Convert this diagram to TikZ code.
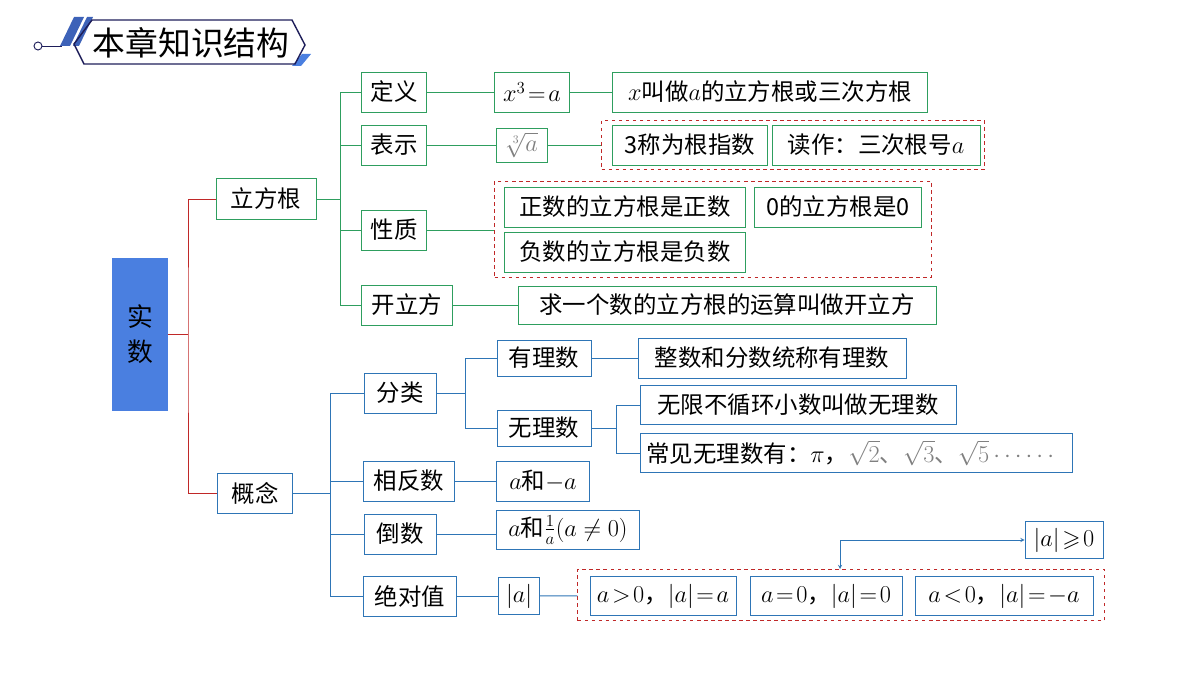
\documentclass[tikz,border=0pt]{standalone}
\usepackage{amssymb}
\usepackage{fontspec}
\setmainfont{Noto Sans CJK SC}
\usetikzlibrary{positioning}
\definecolor{gline}{RGB}{46,158,94}
\definecolor{bline}{RGB}{46,117,182}
\definecolor{rline}{RGB}{192,40,40}
\definecolor{navy}{RGB}{30,30,90}
\definecolor{fillb}{RGB}{74,127,224}
\tikzset{
  gbox/.style={draw=gline,thick,inner sep=1pt,minimum height=40*0.03cm,font=\fontsize{20}{22}\selectfont},
  bbox/.style={draw=bline,thick,inner sep=1pt,minimum height=39*0.03cm,font=\fontsize{20}{22}\selectfont},
  dbox/.style={draw=rline,dashed,thin},
  gl/.style={gline,thick},
  bl/.style={bline,thick},
}
\begin{document}
\begin{tikzpicture}[x=0.03cm,y=-0.03cm]
    \useasboundingbox (0,0) rectangle (1200,675);
    % title %
    \fill[fillb!70!navy] (60,46) -- (74,17) -- (84,17) -- (70,46) -- cycle;
    \fill[fillb!70!navy] (73,46) -- (87,17) -- (93,17) -- (79,46) -- cycle;
    \fill[fillb] (292,66) -- (302,54) -- (311,54) -- (301,66) -- cycle;
    \draw[navy,very thick] (92,20) -- (292,20) -- (305,45) -- (295,64) -- (84,64) -- (74,44) -- cycle;
    \draw[navy,thick] (42,46) -- (62,46);
    \draw[navy,thick,fill=white] (38,46) circle (4);
    \node[font=\fontsize{28}{30}\selectfont] (title) at (191,43) {本章知识结构};

    % root %
    \node[draw=fillb,fill=fillb,minimum width=55*0.03cm,minimum height=152*0.03cm,
          font=\fontsize{22}{30}\selectfont,align=center] (shishu) at (140,334) {实\\数};
    \node[gbox,minimum width=100*0.03cm,minimum height=41*0.03cm] (lifanggen) at (266,199) {立方根};
    \node[bbox,minimum width=75*0.03cm,minimum height=40*0.03cm] (gainian) at (255,493) {概念};
    \draw[rline,thick] (shishu.east) -- (188,334);
    \draw[rline,thick] (lifanggen.west) -| (188,334) |- (gainian.west);

    % cube root branch %
    \node[gbox,minimum width=65*0.03cm] (dingyi) at (394,92) {定义};
    \node[gbox,minimum width=65*0.03cm] (biaoshi) at (394,145) {表示};
    \node[gbox,minimum width=65*0.03cm] (xingzhi) at (394,230) {性质};
    \node[gbox,minimum width=91*0.03cm] (kailifang) at (407,305) {开立方};
    \coordinate (gsplit) at (340,199);
    \draw[gl] (lifanggen.east) -- (gsplit);
    \foreach \n in {dingyi,biaoshi,xingzhi,kailifang}
      \draw[gl] (gsplit) |- (\n.west);

    \node[gbox,minimum width=75*0.03cm] (defeq) at (532,92) {$x^3\!=\!a$};
    \node[gbox,minimum width=315*0.03cm] (defdesc) at (770,92) {$x$叫做$a$的立方根或三次方根};
    \node[gbox,minimum width=51*0.03cm,minimum height=34*0.03cm,text=gray] (cbrt) at (522,145) {$\sqrt[3]{a}$};
    \node[dbox,minimum width=383*0.03cm,minimum height=49*0.03cm] (biaoshibox) at (793,145) {};
    \node[gbox,minimum width=155*0.03cm] (genzhishu) at (690,145) {3称为根指数};
    \node[gbox,minimum width=208*0.03cm] (duzuo) at (876,145) {读作：三次根号$a$};
    \node[dbox,minimum width=437*0.03cm,minimum height=96*0.03cm] (xingzhibox) at (713,229) {};
    \node[gbox,minimum width=241*0.03cm] (zhengshu) at (625,207) {正数的立方根是正数};
    \node[gbox,minimum width=167*0.03cm] (ling) at (838,207) {0的立方根是0};
    \node[gbox,minimum width=241*0.03cm] (fushu) at (625,252) {负数的立方根是负数};
    \node[gbox,minimum width=418*0.03cm,minimum height=38*0.03cm] (kaidesc) at (727,305) {求一个数的立方根的运算叫做开立方};
    \draw[gl] (dingyi) -- (defeq);
    \draw[gl] (defeq) -- (defdesc);
    \draw[gl] (biaoshi) -- (cbrt);
    \draw[gl] (cbrt) -- (biaoshibox);
    \draw[gl] (xingzhi) -- (xingzhibox.west |- xingzhi);
    \draw[gl] (kailifang) -- (kaidesc);

    % concept branch %
    \node[bbox,minimum width=72*0.03cm,minimum height=40*0.03cm] (fenlei) at (400,393) {分类};
    \node[bbox,minimum width=91*0.03cm,minimum height=40*0.03cm] (xiangfanshu) at (409,481) {相反数};
    \node[bbox,minimum width=72*0.03cm,minimum height=40*0.03cm] (daoshu) at (400,534) {倒数};
    \node[bbox,minimum width=93*0.03cm,minimum height=40*0.03cm] (juedui) at (410,596) {绝对值};
    \coordinate (bsplit) at (330,493);
    \draw[bl] (gainian.east) -- (bsplit);
    \foreach \n in {fenlei,xiangfanshu,daoshu,juedui}
      \draw[bl] (bsplit) |- (\n.west);

    \node[bbox,minimum width=94*0.03cm,minimum height=36*0.03cm] (youli) at (544,358) {有理数};
    \node[bbox,minimum width=94*0.03cm,minimum height=36*0.03cm] (wuli) at (544,428) {无理数};
    \coordinate (fsplit) at (465,393);
    \draw[bl] (fenlei.east) -- (fsplit);
    \draw[bl] (fsplit) |- (youli.west);
    \draw[bl] (fsplit) |- (wuli.west);
    \node[bbox,minimum width=268*0.03cm,minimum height=40*0.03cm] (youlidesc) at (772,358) {整数和分数统称有理数};
    \node[bbox,minimum width=316*0.03cm] (wulidesc) at (798,405) {无限不循环小数叫做无理数};
    \node[bbox,minimum width=432*0.03cm,anchor=west,align=left,text width=420*0.03cm] (changjian) at (640,453)
      {常见无理数有：$\pi$，\textcolor{gray}{$\sqrt{2}$、$\sqrt{3}$、$\sqrt{5}\cdots\cdots$}};
    \draw[bl] (youli) -- (youlidesc);
    \coordinate (wsplit) at (616,428);
    \draw[bl] (wuli.east) -- (wsplit);
    \draw[bl] (wsplit) |- (wulidesc.west);
    \draw[bl] (wsplit) |- (changjian.west);

    \node[bbox,minimum width=93*0.03cm,minimum height=40*0.03cm] (fan) at (543,481) {$a$和$-a$};
    \node[bbox,minimum width=143*0.03cm] (dao) at (568,530) {$a$和$\frac{1}{a}(a\neq0)$};
    \node[bbox,minimum width=41*0.03cm,minimum height=37*0.03cm] (absa) at (519,596) {$|a|$};
    \node[dbox,minimum width=527*0.03cm,minimum height=51*0.03cm] (absbox) at (841,595) {};
    \node[bbox,minimum width=146*0.03cm] (pos) at (663,596) {$a\!>\!0$，$|a|\!=\!a$};
    \node[bbox,minimum width=152*0.03cm] (zero) at (826,596) {$a\!=\!0$，$|a|\!=\!0$};
    \node[bbox,minimum width=178*0.03cm] (neg) at (1004,596) {$a\!<\!0$，$|a|\!=\!-a$};
    \node[bbox,minimum width=78*0.03cm,minimum height=37*0.03cm] (nonneg) at (1064,540) {$|a|\!\geqslant\!0$};
    \draw[bl] (xiangfanshu) -- (fan);
    \draw[bl] (daoshu) -- (dao.west |- daoshu);
    \draw[bl] (juedui) -- (absa);
    \draw[bl] (absa) -- (absbox);
    \coordinate (abstop) at (840,569);
    \draw[bline,semithick,<->,>=stealth] (abstop) |- (nonneg.west);
\end{tikzpicture}
\end{document}
